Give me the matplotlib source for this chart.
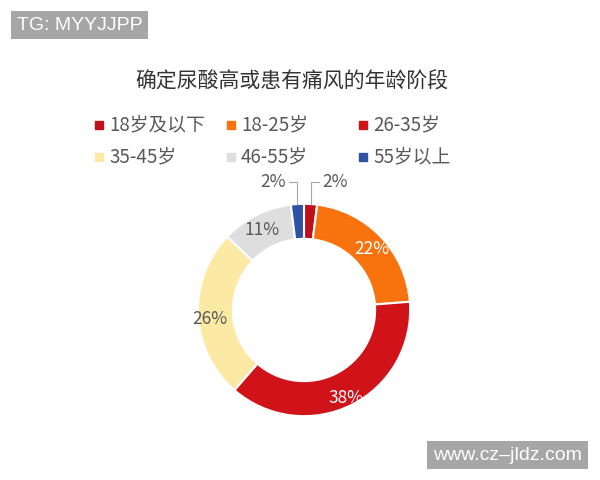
import matplotlib
matplotlib.use("Agg")
import matplotlib.pyplot as plt
from matplotlib.patches import Rectangle
import numpy as np

plt.rcParams['font.family'] = ['Noto Sans CJK SC', 'DejaVu Sans']

# data
title = '确定尿酸高或患有痛风的年龄阶段'
groups = ['18岁及以下', '18-25岁', '26-35岁', '35-45岁', '46-55岁', '55岁以上']
shares = [2, 22, 38, 26, 11, 2]
colors = ['#C0101C', '#F8720D', '#D01219', '#FCE9A4', '#DEDEDE', '#2F52A4']
label_colors = ['#595959', 'white', 'white', '#595959', '#595959', '#595959']

W, H = 600, 480
fig = plt.figure(figsize=(6, 4.8), dpi=100)
fig.patch.set_facecolor('white')

# donut: centre at about (304, 310) px, outer radius about 106 px
cx, cy, half = 304, 310, 138
ax = fig.add_axes([(cx - half) / W, (H - cy - half) / H, 2 * half / W, 2 * half / H])
wedges, _ = ax.pie(shares, colors=colors, startangle=90, counterclock=False,
                   radius=1.0, wedgeprops=dict(width=0.33, edgecolor='white', linewidth=1.5))
ax.set_xlim(-1.3, 1.3)
ax.set_ylim(-1.3, 1.3)
ax.set_aspect('equal')
ax.axis('off')

for w, s, c in zip(wedges, shares, label_colors):
    mid = np.deg2rad((w.theta1 + w.theta2) / 2)
    x, y = np.cos(mid), np.sin(mid)
    if s >= 5:
        ax.text(0.885 * x, 0.885 * y - 0.04, f'{s}%', ha='center', va='center',
                fontsize=12.5, color=c)
    else:
        # small slices: leader line up from the slice, then sideways
        side = 1 if x > 0 else -1
        px, py = 1.0 * x, 1.0 * y
        top = 1.21
        ax.plot([px, px, px + side * 0.08], [py, top, top], color='#A6A6A6', lw=0.8)
        ax.text(px + side * 0.11, top, f'{s}%', ha='left' if side > 0 else 'right',
                va='center', fontsize=12.5, color='#595959')

fig.text(292 / W, 1 - 82 / H, title, ha='center', va='center', fontsize=15, color='#333333')

# legend: 3 equal-width columns, 2 rows, filled row by row
x0, dx = 95, 132
rows_y = [125, 157]
for i, (g, c) in enumerate(zip(groups, colors)):
    xm = x0 + (i % 3) * dx
    ym = rows_y[i // 3]
    fig.add_artist(Rectangle(((xm) / W, 1 - (ym + 4) / H), 8 / W, 8 / H,
                             transform=fig.transFigure, color=c))
    fig.text((xm + 14) / W, 1 - ym / H, g, ha='left', va='center', fontsize=13.5,
             color='#595959')

# watermark boxes
fig.text(17 / W, 1 - 25 / H, 'TG: MYYJJPP', ha='left', va='center', fontsize=14,
         color='white', family='Liberation Sans',
         bbox=dict(boxstyle='square,pad=0.3', fc='#A6A6A6', ec='none'))
fig.text(433 / W, 1 - 455 / H, 'www.cz\u2013jldz.com', ha='left', va='center', fontsize=14,
         color='white', family='Liberation Sans',
         bbox=dict(boxstyle='square,pad=0.3', fc='#A6A6A6', ec='none'))

fig.savefig('out.png', dpi=100)
